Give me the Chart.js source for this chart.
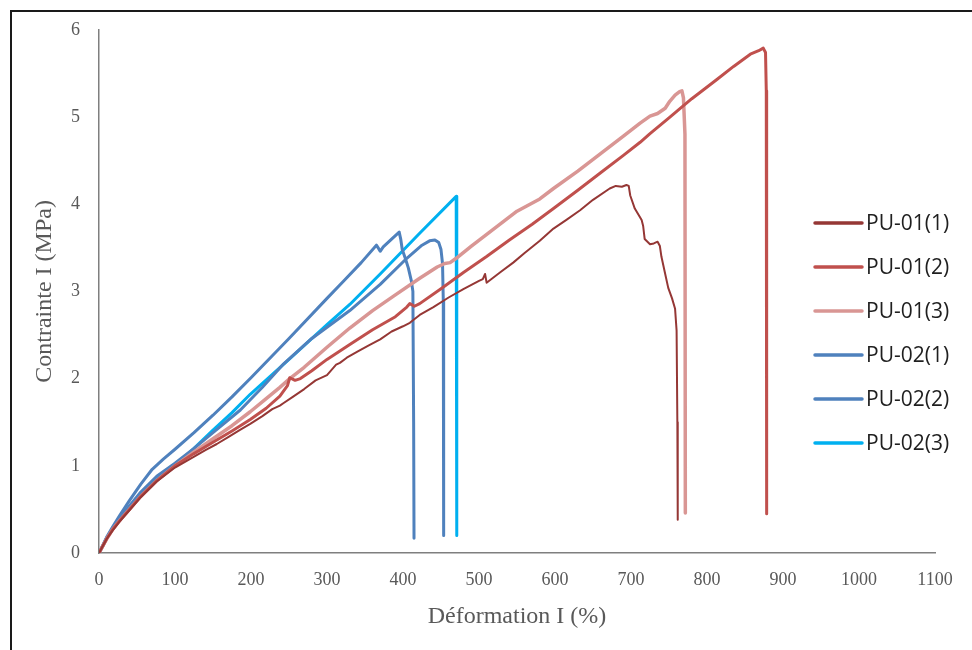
<!DOCTYPE html>
<html>
<head>
<meta charset="utf-8">
<script src="https://cdn.jsdelivr.net/npm/chart.js@4/dist/chart.umd.min.js"></script>
<style>
  html, body { margin: 0; padding: 0; background: #ffffff; }
  #wrap { position: relative; width: 972px; height: 650px; overflow: hidden; background: #fff; }
  #frame { position: absolute; left: 10px; top: 10px; width: 970px; height: 650px;
           border-top: 2px solid #1a1a1a; border-left: 2px solid #1a1a1a; box-sizing: border-box; pointer-events: none; }
  canvas { position: absolute; left: 0; top: 0; }
</style>
</head>
<body>
<div id="wrap">
  <canvas id="c" width="972" height="650"></canvas>
  <div id="frame"></div>
</div>
<script>
// ---- Data (strain %, stress MPa) ----
const seriesNames = ["PU-01(1)", "PU-01(2)", "PU-01(3)", "PU-02(1)", "PU-02(2)", "PU-02(3)"];

const pu011X = [0, 5, 10, 18, 28, 40, 55, 76, 100, 120, 140, 155, 170, 185, 199, 215, 228, 238, 243, 255, 270, 285, 300, 308, 312, 317, 326, 340, 355, 370, 385, 400, 409, 422, 440, 460, 480, 500, 505, 508, 510, 528, 545, 560, 580, 598, 615, 633, 650, 672, 680, 688, 694, 697, 699, 705, 714, 716, 718, 725, 730, 735, 738, 740, 745, 749, 754, 758, 760, 761, 761.5];
const pu011Y = [0, 0.08, 0.16, 0.26, 0.37, 0.49, 0.64, 0.82, 0.98, 1.08, 1.18, 1.25, 1.33, 1.41, 1.48, 1.57, 1.65, 1.69, 1.72, 1.79, 1.88, 1.98, 2.04, 2.12, 2.16, 2.18, 2.24, 2.31, 2.38, 2.45, 2.54, 2.60, 2.64, 2.73, 2.82, 2.93, 3.03, 3.12, 3.14, 3.20, 3.10, 3.22, 3.33, 3.44, 3.58, 3.72, 3.82, 3.93, 4.05, 4.18, 4.21, 4.20, 4.22, 4.21, 4.10, 3.95, 3.82, 3.75, 3.60, 3.54, 3.55, 3.57, 3.52, 3.40, 3.20, 3.04, 2.92, 2.80, 2.55, 1.50, 0.38];

const pu012X = [0, 5, 10, 18, 28, 40, 55, 76, 100, 125, 150, 175, 199, 220, 238, 248, 251, 258, 265, 280, 300, 330, 360, 390, 405, 409, 415, 422, 450, 480, 510, 540, 570, 598, 630, 660, 690, 712, 725, 750, 780, 813, 835, 857, 868, 874, 877, 878, 878.5];
const pu012Y = [0, 0.08, 0.16, 0.27, 0.38, 0.50, 0.65, 0.83, 1.00, 1.14, 1.27, 1.40, 1.53, 1.66, 1.80, 1.92, 2.01, 1.98, 2.00, 2.09, 2.22, 2.39, 2.56, 2.71, 2.82, 2.86, 2.83, 2.86, 3.03, 3.22, 3.40, 3.59, 3.77, 3.95, 4.16, 4.36, 4.56, 4.71, 4.81, 4.99, 5.21, 5.43, 5.58, 5.72, 5.76, 5.79, 5.74, 5.30, 0.45];

const pu013X = [0, 5, 10, 18, 28, 40, 55, 76, 100, 125, 150, 175, 199, 220, 238, 251, 270, 300, 330, 360, 390, 422, 445, 455, 462, 470, 490, 520, 550, 580, 598, 630, 660, 690, 712, 725, 735, 745, 751, 758, 764, 767, 769, 771, 771.5];
const pu013Y = [0, 0.08, 0.16, 0.27, 0.38, 0.50, 0.65, 0.83, 1.00, 1.16, 1.31, 1.46, 1.62, 1.77, 1.90, 2.00, 2.13, 2.36, 2.58, 2.78, 2.96, 3.15, 3.28, 3.32, 3.33, 3.38, 3.52, 3.72, 3.92, 4.06, 4.18, 4.38, 4.58, 4.78, 4.93, 5.01, 5.04, 5.10, 5.18, 5.25, 5.29, 5.30, 5.22, 4.80, 0.46];

const pu021X = [0, 5, 10, 18, 28, 40, 55, 70, 85, 100, 125, 150, 175, 200, 250, 300, 321, 345, 365, 368, 370, 374, 385, 395, 397, 399, 403, 407, 411, 413, 414, 414.5];
const pu021Y = [0, 0.09, 0.18, 0.30, 0.44, 0.60, 0.79, 0.96, 1.08, 1.19, 1.38, 1.58, 1.79, 2.01, 2.46, 2.92, 3.11, 3.33, 3.53, 3.49, 3.46, 3.51, 3.60, 3.68, 3.60, 3.48, 3.38, 3.27, 3.12, 3.00, 1.50, 0.17];

const pu022X = [0, 5, 10, 18, 28, 40, 55, 76, 100, 125, 150, 186, 215, 243, 280, 330, 370, 405, 425, 435, 442, 447, 450, 452, 453, 453.5];
const pu022Y = [0, 0.08, 0.17, 0.28, 0.40, 0.54, 0.70, 0.88, 1.03, 1.20, 1.38, 1.64, 1.90, 2.17, 2.46, 2.78, 3.08, 3.38, 3.53, 3.58, 3.59, 3.56, 3.48, 3.32, 2.90, 0.20];

const pu023X = [0, 5, 10, 18, 28, 40, 55, 76, 100, 125, 150, 175, 199, 250, 300, 330, 370, 420, 470, 470.5, 471];
const pu023Y = [0, 0.08, 0.17, 0.28, 0.40, 0.53, 0.68, 0.85, 1.00, 1.20, 1.41, 1.61, 1.82, 2.22, 2.62, 2.85, 3.20, 3.65, 4.09, 2.00, 0.20];

const xTicksMin = 0, xTicksMax = 1100, xTickStep = 100;
const yTicksMin = 0, yTicksMax = 6, yTickStep = 1;

// ---- Styling ----
const colors = ["#953735", "#C0504D", "#D99694", "#4F81BD", "#4F81BD", "#00B0F0"];
const widths = [2, 3, 3.5, 3, 3, 3];

function pts(xs, ys) { return xs.map((x, i) => ({ x: x, y: ys[i] })); }
const allX = [pu011X, pu012X, pu013X, pu021X, pu022X, pu023X];
const allY = [pu011Y, pu012Y, pu013Y, pu021Y, pu022Y, pu023Y];

const datasets = seriesNames.map((name, i) => ({
  label: name,
  data: pts(allX[i], allY[i]),
  borderColor: colors[i],
  backgroundColor: colors[i],
  borderWidth: widths[i],
  pointRadius: 0,
  tension: 0,
  fill: false,
  borderJoinStyle: 'round',
  borderCapStyle: 'round'
}));

const legendPlugin = {
  id: 'customLegend',
  afterDraw(chart) {
    const ctx = chart.ctx;
    ctx.save();
    chart.data.datasets.forEach((ds, i) => {
      const y = 223 + i * 44;
      ctx.strokeStyle = ds.borderColor;
      ctx.lineWidth = 3.5;
      ctx.lineCap = 'round';
      ctx.beginPath();
      ctx.moveTo(815, y);
      ctx.lineTo(862, y);
      ctx.stroke();
      ctx.fillStyle = '#1f1f1f';
      ctx.font = '21px "Open Sans"';
      ctx.textBaseline = 'middle';
      ctx.textAlign = 'left';
      ctx.fillText(ds.label, 866, y + 1);
    });
    ctx.restore();
  }
};

new Chart(document.getElementById('c'), {
  type: 'line',
  data: { datasets: datasets },
  options: {
    responsive: false,
    devicePixelRatio: 1,
    animation: false,
    layout: { padding: { top: 27, right: 37, left: 0, bottom: 0 } },
    plugins: { legend: { display: false }, tooltip: { enabled: false } },
    scales: {
      x: {
        type: 'linear',
        min: xTicksMin, max: xTicksMax,
        ticks: { stepSize: xTickStep, padding: 16, color: '#595959', font: { family: 'Liberation Serif', size: 18 }, maxRotation: 0,
                 callback: (v) => String(v) },
        grid: { display: false, drawTicks: false },
        border: { display: true, color: '#7f7f7f', width: 1.5 },
        title: { display: true, text: 'Déformation I (%)', color: '#595959', font: { family: 'Liberation Serif', size: 24 }, padding: { top: 4, bottom: 19 } },
        afterFit(scale) { scale.height = 97; }
      },
      y: {
        type: 'linear',
        min: yTicksMin, max: yTicksMax,
        ticks: { stepSize: yTickStep, padding: 19, color: '#595959', font: { family: 'Liberation Serif', size: 18 },
                 callback: (v) => String(v) },
        grid: { display: false, drawTicks: false },
        border: { display: true, color: '#7f7f7f', width: 1.5 },
        title: { display: true, text: 'Contrainte I (MPa)', color: '#595959', font: { family: 'Liberation Serif', size: 24 }, padding: { top: 30, bottom: 0 } },
        afterFit(scale) { scale.width = 99; }
      }
    }
  },
  plugins: [legendPlugin]
});
</script>
</body>
</html>
